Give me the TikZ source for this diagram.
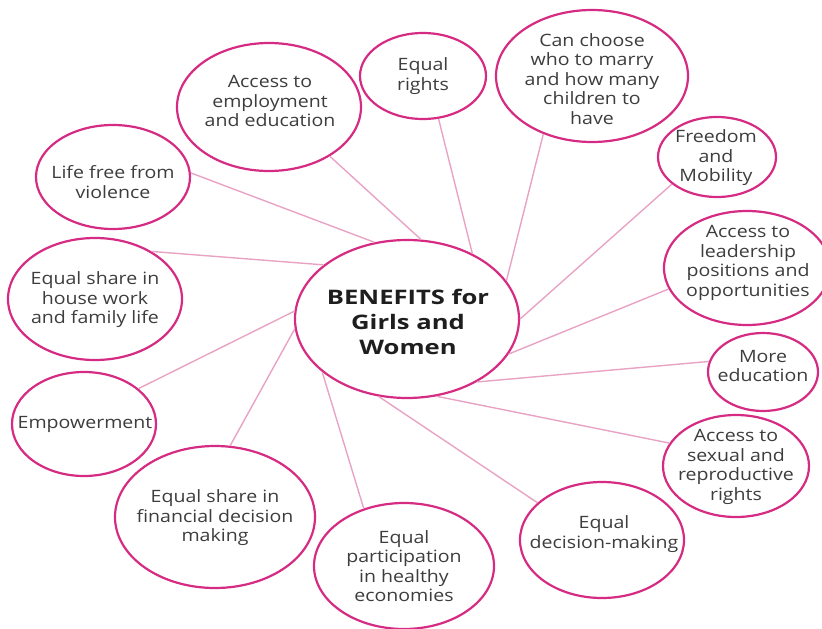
\documentclass[tikz,border=0pt]{standalone}
\usepackage{fontspec}
\setmainfont{Open Sans}[FakeStretch=1.15]
\newfontfamily\benfont{Open Sans}[FakeStretch=1.28]
\usetikzlibrary{shapes.geometric}
\definecolor{ring}{HTML}{D52B82}
\definecolor{spoke}{HTML}{E8A3C4}
\definecolor{ink}{HTML}{3D3D3D}
\definecolor{darkink}{HTML}{1E1E1E}
\tikzset{
  bub/.style={ellipse, draw=ring, line width=2.2pt, fill=white, inner sep=0pt},
  conn/.style={draw=spoke, line width=1.4pt},
  txt/.style={align=center, inner sep=0pt, text=ink, font=\fontsize{17}{19.5}\selectfont},
  btxt/.style={align=center, inner sep=0pt, text=darkink, font=\benfont\bfseries\fontsize{20}{25}\selectfont}
}
\begin{document}
\begin{tikzpicture}[x=1pt,y=-1pt]
\useasboundingbox (0,0) rectangle (822,629);
% bubbles
\node[bub, minimum width=224pt, minimum height=158pt] (c) at (407,319) {};
\node[bub, minimum width=184pt, minimum height=128pt] (e1) at (269,107) {};
\node[bub, minimum width=126pt, minimum height=86pt] (e2) at (423,76) {};
\node[bub, minimum width=192pt, minimum height=132pt] (e3) at (592,76) {};
\node[bub, minimum width=118pt, minimum height=80pt] (e4) at (717,157) {};
\node[bub, minimum width=166pt, minimum height=114pt] (e5) at (747,268) {};
\node[bub, minimum width=110pt, minimum height=78pt] (e6) at (763,372) {};
\node[bub, minimum width=146pt, minimum height=102pt] (e7) at (736,466) {};
\node[bub, minimum width=164pt, minimum height=116pt] (e8) at (602,540) {};
\node[bub, minimum width=180pt, minimum height=126pt] (e9) at (404,566) {};
\node[bub, minimum width=200pt, minimum height=142pt] (e10) at (215,517) {};
\node[bub, minimum width=144pt, minimum height=104pt] (e11) at (84,424) {};
\node[bub, minimum width=174pt, minimum height=122pt] (e12) at (95,299) {};
\node[bub, minimum width=154pt, minimum height=104pt] (e13) at (113,177) {};
% connectors
\draw[conn] (e1.321.6) -- (c.80.5);
\draw[conn] (e2.290) -- (c.45);
\draw[conn] (e3.230) -- (c.21.5);
\draw[conn] (e4.211) -- (c.0.5);
\draw[conn] (e5.195) -- (c.341.9);
\draw[conn] (e6.169.5) -- (c.318.4);
\draw[conn] (e7.161) -- (c.291.7);
\draw[conn] (e8.150) -- (c.250.9);
\draw[conn] (e9.125) -- (c.212.4);
\draw[conn] (e10.78) -- (c.185.6);
\draw[conn] (e11.33.5) -- (c.176.4);
\draw[conn] (e12.40.5) -- (c.147.3);
\draw[conn] (e13.3) -- (c.113.8);
% texts
\node[btxt] (tc) at (408,322) {BENEFITS for\\Girls and\\Women};
\node[txt] (t1) at (270,101) {Access to\\employment\\and education};
\node[txt] (t2) at (423,76) {Equal\\rights};
\node[txt] (t3) at (592,79) {Can choose\\who to marry\\and how many\\children to\\have};
\node[txt] (t4) at (716,158) {Freedom\\and\\Mobility};
\node[txt] (t5) at (748,263) {Access to\\leadership\\positions and\\opportunities};
\node[txt] (t6) at (763,366) {More\\education};
\node[txt] (t7) at (736,467) {Access to\\sexual and\\reproductive\\rights};
\node[txt] (t8) at (604,534) {Equal\\decision-making};
\node[txt] (t9) at (404,566) {Equal\\participation\\in healthy\\economies};
\node[txt] (t10) at (215,518) {Equal share in\\financial decision\\making};
\node[txt] (t11) at (85,424) {Empowerment};
\node[txt] (t12) at (95,300) {Equal share in\\house work\\and family life};
\node[txt] (t13) at (113,182) {Life free from\\violence};
\end{tikzpicture}
\end{document}
